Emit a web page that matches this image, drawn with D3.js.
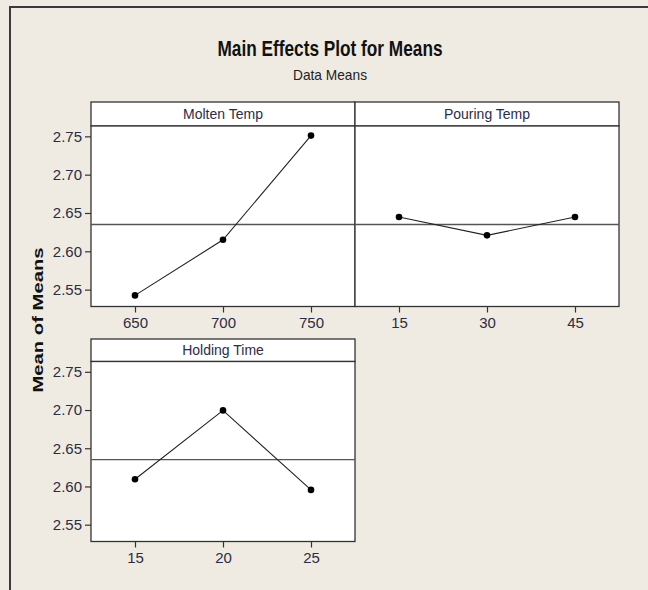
<!DOCTYPE html>
<html>
<head>
<meta charset="utf-8">
<script src="https://cdn.jsdelivr.net/npm/d3@7"></script>
<style>
  html, body { margin: 0; padding: 0; background: #efebe2; overflow: hidden; }
  svg { display: block; }
  text { font-family: "Liberation Sans", Arial, sans-serif; }
</style>
</head>
<body>
<div id="chart"></div>
<script>
// ---- data ----
const moltenLevels = [650, 700, 750];
const moltenMeans  = [2.5425, 2.615, 2.751];

const pouringLevels = [15, 30, 45];
const pouringMeans  = [2.6447, 2.6208, 2.6447];

const holdingLevels = [15, 20, 25];
const holdingMeans  = [2.6095, 2.6995, 2.5955];

const grandMean = 2.635;
const yTicks = [2.55, 2.60, 2.65, 2.70, 2.75];

const W = 648, H = 590;

const svg = d3.select("#chart").append("svg")
    .attr("width", W)
    .attr("height", H);

// outer frame: only the left and top edges are inside the picture
svg.append("path")
    .attr("d", "M10," + H + "V7H" + W)
    .attr("fill", "none")
    .attr("stroke", "#3a3a3a")
    .attr("stroke-width", 2);

// title block
svg.append("text")
    .attr("x", 330).attr("y", 56)
    .attr("text-anchor", "middle")
    .attr("font-size", "22px")
    .attr("font-weight", "bold")
    .attr("fill", "#111")
    .attr("textLength", 225)
    .attr("lengthAdjust", "spacingAndGlyphs")
    .text("Main Effects Plot for Means");

svg.append("text")
    .attr("x", 330).attr("y", 80)
    .attr("text-anchor", "middle")
    .attr("font-size", "15px")
    .attr("fill", "#222")
    .attr("textLength", 74)
    .attr("lengthAdjust", "spacingAndGlyphs")
    .text("Data Means");

// y axis title
svg.append("text")
    .attr("transform", "translate(43,320) rotate(-90)")
    .attr("text-anchor", "middle")
    .attr("font-family", "DejaVu Sans, sans-serif")
    .attr("font-size", "15px")
    .attr("font-weight", "bold")
    .attr("fill", "#111")
    .attr("textLength", 145)
    .attr("lengthAdjust", "spacingAndGlyphs")
    .text("Mean of Means");

const y = d3.scaleLinear().domain([2.528, 2.7635]);

/**
 * Draw one factor panel: header strip, plot box, mean reference line,
 * the line through the level means and the axes.
 */
function drawPanel(opts) {
    const { x0, x1, headTop, plotTop, plotBottom, title, levels, means, leftAxis } = opts;

    const step = levels[1] - levels[0];
    const x = d3.scaleLinear()
        .domain([levels[0] - step / 2, levels[levels.length - 1] + step / 2])
        .range([x0, x1]);
    const yy = y.copy().range([plotBottom, plotTop]);

    const g = svg.append("g");

    // header strip
    g.append("rect")
        .attr("x", x0).attr("y", headTop)
        .attr("width", x1 - x0).attr("height", plotTop - headTop)
        .attr("fill", "#fff")
        .attr("stroke", "#333").attr("stroke-width", 1.3);

    g.append("text")
        .attr("x", (x0 + x1) / 2)
        .attr("y", headTop + (plotTop - headTop) / 2 + 5)
        .attr("text-anchor", "middle")
        .attr("font-size", "14px")
        .attr("fill", "#2c2c4a")
        .text(title);

    // plot box
    g.append("rect")
        .attr("x", x0).attr("y", plotTop)
        .attr("width", x1 - x0).attr("height", plotBottom - plotTop)
        .attr("fill", "#fff")
        .attr("stroke", "#333").attr("stroke-width", 1.3);

    // grand mean reference
    g.append("line")
        .attr("x1", x0).attr("x2", x1)
        .attr("y1", yy(grandMean)).attr("y2", yy(grandMean))
        .attr("stroke", "#555").attr("stroke-width", 1.3);

    const pts = levels.map((l, i) => [l, means[i]]);

    g.append("path")
        .datum(pts)
        .attr("fill", "none")
        .attr("stroke", "#222")
        .attr("stroke-width", 1.1)
        .attr("d", d3.line().x(d => x(d[0])).y(d => yy(d[1])));

    g.selectAll("circle")
        .data(pts)
        .enter().append("circle")
        .attr("cx", d => x(d[0]))
        .attr("cy", d => yy(d[1]))
        .attr("r", 3.3)
        .attr("fill", "#000");

    // x axis
    const xAxis = g.append("g")
        .attr("transform", "translate(0," + plotBottom + ")")
        .call(d3.axisBottom(x).tickValues(levels).tickSize(6).tickSizeOuter(0).tickPadding(5));
    xAxis.select(".domain").remove();
    xAxis.selectAll("line").attr("stroke", "#333").attr("stroke-width", 1.2);
    xAxis.selectAll("text")
        .attr("font-family", "Liberation Sans, Arial, sans-serif")
        .attr("font-size", "15px")
        .attr("fill", "#2c2c44");

    if (leftAxis) {
        const yAxis = g.append("g")
            .attr("transform", "translate(" + x0 + ",0)")
            .call(d3.axisLeft(yy).tickValues(yTicks).tickFormat(d3.format(".2f"))
                .tickSize(6).tickSizeOuter(0).tickPadding(3));
        yAxis.select(".domain").remove();
        yAxis.selectAll("line").attr("stroke", "#333").attr("stroke-width", 1.2);
        yAxis.selectAll("text")
            .attr("font-family", "Liberation Sans, Arial, sans-serif")
            .attr("font-size", "15px")
            .attr("fill", "#2c2c44");
    }
}

drawPanel({
    x0: 91, x1: 355, headTop: 102, plotTop: 126, plotBottom: 306.5,
    title: "Molten Temp", levels: moltenLevels, means: moltenMeans, leftAxis: true
});
drawPanel({
    x0: 355, x1: 619, headTop: 102, plotTop: 126, plotBottom: 306.5,
    title: "Pouring Temp", levels: pouringLevels, means: pouringMeans, leftAxis: false
});
drawPanel({
    x0: 91, x1: 355, headTop: 339, plotTop: 361.5, plotBottom: 541.5,
    title: "Holding Time", levels: holdingLevels, means: holdingMeans, leftAxis: true
});
</script>
</body>
</html>
